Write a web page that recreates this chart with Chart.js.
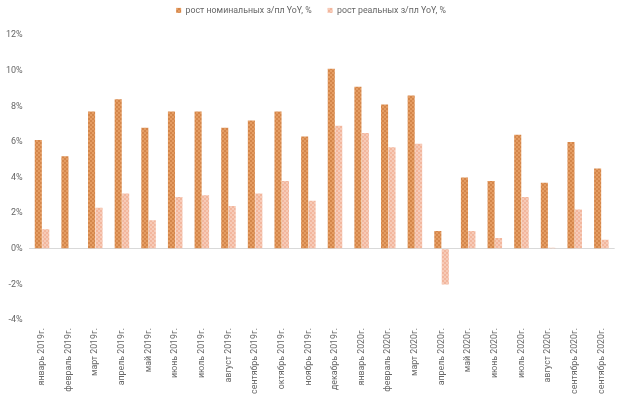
<!DOCTYPE html>
<html>
<head>
<meta charset="utf-8">
<script src="https://cdn.jsdelivr.net/npm/chart.js@4"></script>
<style>
  html, body { margin: 0; padding: 0; background: #fff; }
  #wrap { width: 620px; height: 397px; }
</style>
</head>
<body>
<div id="wrap"><canvas id="wageChart"></canvas></div>
<script>
var labels = [
    'январь 2019г.', 'февраль 2019г.', 'март 2019г.', 'апрель 2019г.', 'май 2019г.',
    'июнь 2019г.', 'июль 2019г.', 'август 2019г.', 'сентябрь 2019г.', 'октябрь 2019г.',
    'ноябрь 2019г.', 'декабрь 2019г.', 'январь 2020г.', 'февраль 2020г.', 'март 2020г.',
    'апрель 2020г.', 'май 2020г.', 'июнь 2020г.', 'июль 2020г.', 'август 2020г.',
    'сентябрь 2020г.', 'сентябрь 2020г.'
];
var nominal = [6.1, 5.2, 7.7, 8.4, 6.8, 7.7, 7.7, 6.8, 7.2, 7.7, 6.3, 10.1, 9.1, 8.1, 8.6, 1.0, 4.0, 3.8, 6.4, 3.7, 6.0, 4.5];
var real = [1.1, null, 2.3, 3.1, 1.6, 2.9, 3.0, 2.4, 3.1, 3.8, 2.7, 6.9, 6.5, 5.7, 5.9, -2.0, 1.0, 0.6, 2.9, 0.05, 2.2, 0.5];
var yTicks = [-4, -2, 0, 2, 4, 6, 8, 10, 12];

document.addEventListener("DOMContentLoaded", function () {

    // small checker texture like the excel fill
    function makePattern(c1, c2) {
        var p = document.createElement('canvas');
        p.width = 4; p.height = 4;
        var pc = p.getContext('2d');
        pc.fillStyle = c1;
        pc.fillRect(0, 0, 4, 4);
        pc.fillStyle = c2;
        pc.fillRect(0, 0, 2, 2);
        pc.fillRect(2, 2, 2, 2);
        return pc.createPattern(p, 'repeat');
    }

    // keep wide gap between legend items but a short legend box
    var legendFix = {
        id: 'legendFix',
        beforeInit: function (chart) {
            var lg = chart.legend;
            var fit = lg.fit;
            lg.fit = function () {
                fit.call(this);
                this.height = 28;
            };
        },
        beforeDraw: function (chart) {
            chart.legend.top = -10;
            chart.legend.left = 6;
        }
    };

    var ctx = document.getElementById('wageChart').getContext('2d');
    var nomFill = makePattern('#d4864a', '#e59d63');
    var realFill = makePattern('#f2b69d', '#f7cbb8');

    var chart = new Chart(ctx, {
        type: 'bar',
        data: {
            labels: labels,
            datasets: [
                {
                    label: 'рост номинальных з/пл YoY, %',
                    data: nominal,
                    backgroundColor: nomFill,
                    borderWidth: 0,
                    categoryPercentage: 0.56,
                    barPercentage: 0.95
                },
                {
                    label: 'рост реальных з/пл YoY, %',
                    data: real,
                    backgroundColor: realFill,
                    borderWidth: 0,
                    categoryPercentage: 0.56,
                    barPercentage: 0.95
                }
            ]
        },
        plugins: [legendFix],
        options: {
            responsive: true,
            maintainAspectRatio: false,
            animation: false,
            layout: { padding: { left: 0, right: 4, top: 7, bottom: 0 } },
            plugins: {
                legend: {
                    position: 'top',
                    labels: {
                        boxWidth: 5,
                        boxHeight: 5,
                        padding: 16,
                        color: '#666666',
                        font: { family: 'Roboto', size: 8.8 }
                    }
                },
                tooltip: { enabled: false }
            },
            scales: {
                x: {
                    grid: { display: false, drawTicks: false },
                    border: { display: false },
                    afterFit: function (axis) {
                        axis.height = 77;
                    },
                    ticks: {
                        autoSkip: false,
                        minRotation: 90,
                        maxRotation: 90,
                        padding: 8,
                        color: '#666666',
                        font: { family: "'Liberation Sans Narrow', Roboto", size: 8.8 }
                    }
                },
                y: {
                    min: yTicks[0],
                    max: yTicks[yTicks.length - 1],
                    afterBuildTicks: function (axis) {
                        axis.ticks = yTicks.map(v => ({ value: v }));
                    },
                    grid: {
                        drawTicks: false,
                        color: c => c.tick && c.tick.value === 0 ? '#d9d9d9' : 'rgba(0,0,0,0)'
                    },
                    border: { display: false },
                    ticks: {
                        padding: 6,
                        color: '#666666',
                        font: { family: 'Roboto', size: 9 },
                        callback: v => v + '%'
                    }
                }
            }
        }
    });
});
</script>
</body>
</html>
